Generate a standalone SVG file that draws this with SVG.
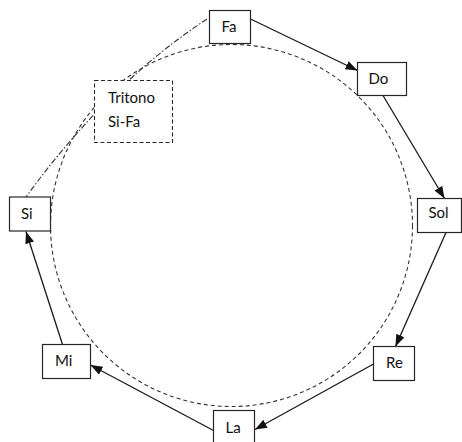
<svg xmlns="http://www.w3.org/2000/svg" width="462" height="442" viewBox="0 0 462 442">
  <style>
    .box { fill: #ffffff; stroke: #262626; stroke-width: 1.2; }
    .note { fill: #ffffff; stroke: #262626; stroke-width: 1.1; stroke-dasharray: 4 2.5; }
    .lbl { font-family: Lato, "Open Sans", "Liberation Sans", sans-serif; font-size: 15px; fill: #111111; }
    .edge { fill: none; stroke: #1a1a1a; stroke-width: 1.3; marker-end: url(#head); }
    .ring { fill: none; stroke: #333333; stroke-width: 1.1; stroke-dasharray: 4 3; }
    .tie { fill: none; stroke: #333333; stroke-width: 1.1; stroke-dasharray: 6 2 1.5 2; }
  </style>
  <defs>
    <marker id="head" markerUnits="userSpaceOnUse" markerWidth="13" markerHeight="10" refX="12" refY="4.5" orient="auto">
      <path d="M0,0 L12,4.5 L0,9 z" fill="#111111"/>
    </marker>
  </defs>

  <rect width="462" height="442" fill="#ffffff"/>

  <!-- circle of fifths and the tritone link -->
  <g id="guides">
    <circle class="ring" cx="231.5" cy="225.5" r="181"/>
    <path class="tie" d="M207,19 Q108,84 26,197"/>
  </g>

  <!-- fifth steps -->
  <g id="connectors">
    <line class="edge" x1="250.5" y1="19" x2="357.5" y2="70.5"/>
    <line class="edge" x1="383" y1="95.5" x2="444.5" y2="198.5"/>
    <line class="edge" x1="446" y1="232.5" x2="395.5" y2="346.5"/>
    <line class="edge" x1="373.5" y1="364" x2="255" y2="429.5"/>
    <line class="edge" x1="213.5" y1="430.5" x2="90.5" y2="365"/>
    <line class="edge" x1="62.5" y1="344.5" x2="26" y2="231.5"/>
  </g>

  <g id="node-fa">
    <rect class="box" x="209.5" y="10.5" width="41" height="33"/>
    <text class="lbl" x="221.5" y="32">Fa</text>
  </g>
  <g id="node-do">
    <rect class="box" x="357.5" y="62.5" width="49" height="33"/>
    <text class="lbl" x="368.5" y="83.5">Do</text>
  </g>
  <g id="node-sol">
    <rect class="box" x="417.5" y="198.5" width="44" height="34"/>
    <text class="lbl" x="428.5" y="218">Sol</text>
  </g>
  <g id="node-re">
    <rect class="box" x="373.5" y="346.5" width="41" height="34"/>
    <text class="lbl" x="386" y="367.5">Re</text>
  </g>
  <g id="node-la">
    <rect class="box" x="213.5" y="410.5" width="41" height="34"/>
    <text class="lbl" x="225.5" y="432.5">La</text>
  </g>
  <g id="node-mi">
    <rect class="box" x="42.5" y="344.5" width="48" height="34"/>
    <text class="lbl" x="55" y="366">Mi</text>
  </g>
  <g id="node-si">
    <rect class="box" x="9.5" y="197" width="41" height="34"/>
    <text class="lbl" x="21" y="218.5">Si</text>
  </g>
  <g id="node-tritono">
    <rect class="note" x="94.5" y="80.5" width="78" height="62"/>
    <text class="lbl" x="108" y="102.5">Tritono</text>
    <text class="lbl" x="108" y="127">Si-Fa</text>
  </g>
</svg>
